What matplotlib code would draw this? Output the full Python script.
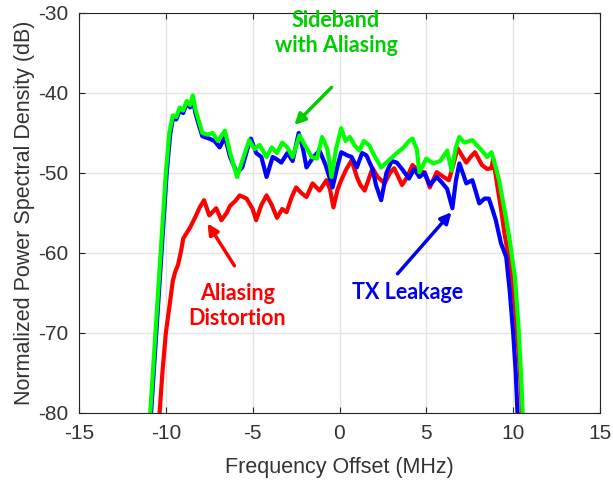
import matplotlib
matplotlib.use("Agg")
import matplotlib.pyplot as plt

# ---- data ----
green_x = [-10.95, -10.9, -10.6, -10.3, -10.0, -9.8, -9.6, -9.4, -9.2, -9.0, -8.8, -8.6, -8.45, -8.3, -8.1,
           -7.9, -7.6, -7.3, -7.0, -6.6, -6.3, -5.9, -5.6, -5.2, -4.9, -4.6, -4.2, -3.9, -3.6, -3.3,
           -3.0, -2.7, -2.3, -2.0, -1.6, -1.3, -1.0, -0.7, -0.46, -0.2, 0.1, 0.35, 0.6, 0.85, 1.15,
           1.4, 1.7, 2.0, 2.4, 2.8, 3.3, 3.7, 4.0, 4.2, 4.45, 4.6, 5.0, 5.4, 5.8, 6.2, 6.45, 6.7,
           6.9, 7.2, 7.65, 7.9, 8.2, 8.5, 8.75, 9.0, 9.2, 9.4, 9.6, 9.8, 10.1, 10.3, 10.45, 10.55, 10.58]
green_y = [-82, -80, -70, -60, -50, -45, -42.8, -43.0, -41.8, -42.2, -41.0, -41.5, -40.3, -42.0, -43.5,
           -45.0, -45.2, -45.0, -46.0, -44.7, -47.5, -50.5, -48.5, -45.9, -47.0, -46.5, -48.0, -46.8, -47.5, -46.2,
           -46.8, -48.0, -45.3, -46.5, -48.0, -48.2, -45.5, -47.0, -50.5, -47.0, -44.4, -46.0, -45.5, -46.5, -47.2,
           -46.0, -46.5, -47.8, -49.3, -48.5, -47.5, -46.8, -46.0, -45.7, -47.0, -49.9, -48.2, -48.8, -48.5, -47.2, -49.7, -46.8,
           -45.5, -46.2, -45.9, -46.5, -47.2, -48.0, -47.4, -49.3, -51.0, -53.4, -55.8, -58.4, -63.0, -69, -75, -80, -82]

blue_x = [-10.9, -10.85, -10.55, -10.25, -9.95, -9.75, -9.6, -9.4, -9.2, -9.0, -8.8, -8.6, -8.45, -8.3, -8.1,
          -7.9, -7.5, -7.2, -6.9, -6.6, -6.3, -5.9, -5.6, -5.3, -5.1, -4.8, -4.5, -4.2, -3.85, -3.6,
          -3.35, -3.0, -2.7, -2.35, -2.1, -1.9, -1.5, -1.15, -0.8, -0.4, -0.1, 0.1, 0.45, 0.7, 1.0,
          1.3, 1.55, 1.9, 2.1, 2.4, 2.7, 3.0, 3.3, 3.6, 4.0, 4.3, 4.6, 4.9, 5.2, 5.6, 5.9, 6.2,
          6.5, 6.7, 6.9, 7.1, 7.3, 7.65, 8.05, 8.35, 8.6, 8.8, 9.0, 9.3, 9.6, 9.8, 10.0, 10.15, 10.25, 10.28]
blue_y = [-82, -80, -70, -60, -50, -45.2, -43.2, -43.3, -42.2, -42.5, -41.3, -41.8, -40.7, -42.5, -44.0,
          -45.4, -45.7, -46.0, -46.8, -45.5, -48.0, -50.0, -49.3, -47.0, -45.7, -47.5, -48.0, -50.5, -48.0, -48.3,
          -48.7, -47.5, -48.5, -45.0, -47.0, -49.3, -48.0, -47.2, -49.0, -51.8, -49.0, -47.4, -47.8, -48.0, -49.3,
          -47.5, -47.8, -49.5, -51.5, -53.4, -50.0, -48.5, -48.7, -49.5, -50.7, -49.5, -50.5, -50.0, -51.5, -50.5, -51.2, -52.0,
          -54.4, -51.0, -48.8, -50.0, -51.3, -50.9, -53.8, -53.2, -53.2, -54.5, -55.9, -58.8, -60.5, -64.7, -70, -75, -80, -82]

red_x = [-10.4, -10.36, -10.2, -10.0, -9.8, -9.6, -9.45, -9.3, -9.1, -9.0, -8.8, -8.6, -8.3, -8.05, -7.8,
         -7.5, -7.1, -6.8, -6.5, -6.3, -6.0, -5.75, -5.35, -5.0, -4.8, -4.5, -4.2, -3.9, -3.6, -3.3,
         -3.05, -2.75, -2.5, -2.2, -1.9, -1.55, -1.15, -0.75, -0.55, -0.35, -0.1, 0.1, 0.4, 0.7, 1.0,
         1.2, 1.45, 1.9, 2.2, 2.6, 2.9, 3.15, 3.6, 3.9, 4.2, 4.6, 4.9, 5.2, 5.6, 6.0, 6.3, 6.55,
         6.8, 7.1, 7.3, 7.55, 7.8, 8.0, 8.2, 8.5, 8.75, 8.85, 9.1, 9.3, 9.5, 9.7, 9.9, 10.1, 10.3, 10.45, 10.5, 10.52]
red_y = [-82, -80, -75, -70, -66.8, -63.5, -62.3, -61.5, -59.5, -58.2, -57.5, -56.8, -55.5, -54.3, -53.4,
         -55.3, -54.4, -55.9, -55.0, -54.1, -53.5, -52.8, -53.2, -54.5, -55.9, -54.0, -52.8, -54.0, -55.6, -54.5,
         -54.9, -53.0, -51.8, -52.5, -53.0, -51.3, -52.2, -50.9, -52.0, -54.3, -52.0, -50.9, -49.5, -48.4, -50.5,
         -51.5, -52.2, -49.4, -50.5, -51.3, -50.0, -49.4, -51.5, -50.5, -49.0, -49.8, -49.9, -51.8, -49.9, -50.5, -50.9, -49.0,
         -46.9, -48.0, -48.7, -48.0, -47.4, -48.2, -49.0, -49.5, -49.4, -48.2, -51.8, -54.5, -57.6, -60.0, -62.6, -66.5, -72, -77, -80, -82]

x_ticks = [-15, -10, -5, 0, 5, 10, 15]
y_ticks = [-80, -70, -60, -50, -40, -30]

# ---- figure ----
plt.rcParams['font.family'] = ['Liberation Sans', 'DejaVu Sans']
plt.rcParams['axes.unicode_minus'] = False
fig = plt.figure(figsize=(6.13, 4.8), dpi=100)
ax = fig.add_axes([79/613, 67/480, 521/613, 400/480])

lw = 3.0
ax.plot(red_x, red_y, color='#ff0000', lw=lw, solid_joinstyle='round')
ax.plot(blue_x, blue_y, color='#0000ff', lw=lw, solid_joinstyle='round')
ax.plot(green_x, green_y, color='#00ff00', lw=lw, solid_joinstyle='round')

ax.set_xlim(-15, 15)
ax.set_ylim(-80, -30)
ax.set_xticks(x_ticks)
ax.set_yticks(y_ticks)
ax.grid(True, color='#e3e3e3', lw=1.0)
ax.set_axisbelow(True)
ax.tick_params(direction='in', top=True, right=True, length=4, width=0.8,
               labelsize=15, colors='#262626', labelcolor='#333333', pad=8)
for s in ax.spines.values():
    s.set_color('#262626')
    s.set_linewidth(0.8)

ax.set_xlabel('Frequency Offset (MHz)', fontsize=15.5, color='#333333', va='center')
ax.set_ylabel('Normalized Power Spectral Density (dB)', fontsize=15.5, color='#333333', va='center')
ax.xaxis.set_label_coords(0.5, (413 - 467) / 400)
ax.yaxis.set_label_coords((25 - 79) / 521, 0.5)

afont = dict(family=['Lato', 'DejaVu Sans'], fontweight='bold', fontsize=15.5, ha='center', va='center',
             linespacing=1.25)
ax.text(-0.2, -32.5, 'Sideband\nwith Aliasing', color='#00cc00', **afont)
ax.annotate('', xy=(-2.6, -44.0), xytext=(-0.46, -39.3),
            arrowprops=dict(arrowstyle='-|>', color='#00cc00', lw=2.5, mutation_scale=16,
                            shrinkA=0, shrinkB=0))
ax.text(-5.87, -66.6, 'Aliasing\nDistortion', color='#ff0000', **afont)
ax.annotate('', xy=(-7.6, -56.3), xytext=(-6.05, -61.6),
            arrowprops=dict(arrowstyle='-|>', color='#ff0000', lw=2.5, mutation_scale=16,
                            shrinkA=0, shrinkB=0))
ax.text(3.9, -64.9, 'TX Leakage', color='#0000ee', **afont)
ax.annotate('', xy=(6.45, -54.9), xytext=(3.34, -62.6),
            arrowprops=dict(arrowstyle='-|>', color='#0000ee', lw=2.5, mutation_scale=16,
                            shrinkA=0, shrinkB=0))

fig.savefig('out.png', dpi=100)
